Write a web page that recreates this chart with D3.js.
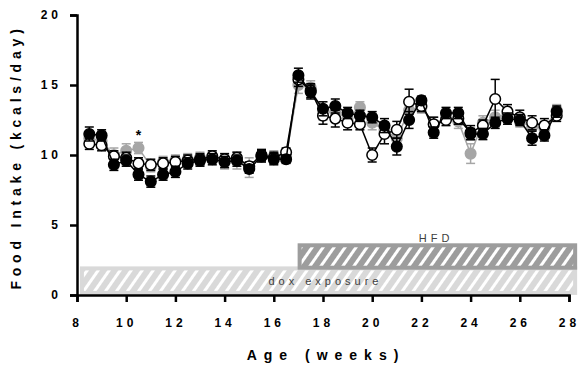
<!DOCTYPE html>
<html>
<head>
<meta charset="utf-8">
<script src="https://cdn.jsdelivr.net/npm/d3@7"></script>
<style>
  body { margin: 0; background: #fff; }
  text { font-family: "Liberation Sans", Arial, sans-serif; }
</style>
</head>
<body>
<svg id="chart" width="584" height="370"></svg>
<script>
// weeks of age (every half week)
const weeks = [8.5, 9, 9.5, 10, 10.5, 11, 11.5, 12, 12.5, 13, 13.5, 14, 14.5, 15, 15.5, 16, 16.5,
    17, 17.5, 18, 18.5, 19, 19.5, 20, 20.5, 21, 21.5, 22, 22.5, 23, 23.5, 24, 24.5, 25, 25.5, 26, 26.5, 27, 27.5];

const blackVals = [11.5, 11.4, 9.3, 9.6, 8.6, 8.1, 8.6, 8.8, 9.4, 9.6, 9.7, 9.5, 9.6, 9.0, 9.9, 9.7, 9.7,
    15.7, 14.5, 13.3, 13.5, 13.0, 12.8, 12.7, 12.1, 10.6, 12.5, 13.9, 11.6, 13.0, 13.0, 11.5, 11.5, 12.3, 12.6, 12.5, 11.2, 11.4, 13.1];
const blackErr = [0.5, 0.4, 0.4, 0.4, 0.4, 0.4, 0.4, 0.4, 0.4, 0.4, 0.4, 0.4, 0.4, 0.3, 0.4, 0.4, 0.3,
    0.5, 0.5, 0.5, 0.5, 0.4, 0.4, 0.4, 0.5, 0.6, 0.6, 0.3, 0.4, 0.4, 0.4, 0.4, 0.4, 0.4, 0.4, 0.4, 0.5, 0.4, 0.4];

const openVals = [10.8, 10.7, 9.9, 9.8, 9.4, 9.3, 9.4, 9.5, 9.6, 9.7, 9.9, 9.7, 9.8, 9.2, 10.0, 9.8, 10.2,
    15.4, 14.6, 12.8, 12.6, 12.3, 12.2, 10.0, 11.5, 11.8, 13.8, 13.5, 12.2, 12.5, 12.6, 11.6, 12.1, 14.0, 13.1, 12.7, 12.3, 12.1, 12.8];
const openErr = [0.4, 0.4, 0.4, 0.4, 0.4, 0.4, 0.4, 0.4, 0.4, 0.4, 0.4, 0.4, 0.4, 0.3, 0.4, 0.4, 0.3,
    0.5, 0.5, 0.6, 0.6, 0.5, 0.4, 0.5, 0.7, 0.6, 0.9, 0.4, 0.5, 0.4, 0.4, 0.5, 0.4, 1.4, 0.5, 0.5, 0.5, 0.5, 0.4];

const grayVals = [11.2, 11.0, 10.0, 10.3, 10.5, 9.2, 9.5, 9.6, 9.7, 9.8, 9.8, 9.5, 9.6, 9.1, 9.9, 9.9, 9.9,
    15.0, 14.8, 13.0, 13.1, 12.6, 13.4, 12.3, 11.8, 11.2, 13.2, 13.4, 12.2, 12.7, 12.4, 10.1, 12.3, 12.7, 12.9, 12.4, 12.0, 11.9, 13.2];
const grayErr = [0.4, 0.4, 0.5, 0.5, 0.4, 0.4, 0.4, 0.4, 0.4, 0.4, 0.4, 0.5, 0.6, 0.7, 0.4, 0.4, 0.3,
    0.6, 0.5, 0.5, 0.5, 0.4, 0.4, 0.5, 0.5, 0.5, 0.5, 0.4, 0.5, 0.4, 0.5, 0.7, 0.5, 0.5, 0.5, 0.4, 0.5, 0.5, 0.4];

const xTicks = [8, 10, 12, 14, 16, 18, 20, 22, 24, 26, 28];
const yTicks = [0, 5, 10, 15, 20];

// treatment periods [start, end] in weeks and their vertical band in kcals
const doxPeriod = [8.2, 28.25];
const doxBand = [0.15, 1.9];
const hfdPeriod = [17.05, 28.25];
const hfdBand = [1.95, 3.55];
const starWeek = 10.5;
const starVal = 11.6;

const svg = d3.select("#chart");
const x = d3.scaleLinear().domain([8, 28]).range([77, 569]);
const y = d3.scaleLinear().domain([0, 20]).range([295, 15]);

// stripe patterns
const defs = svg.append("defs");
function stripes(id, color) {
    const p = defs.append("pattern")
        .attr("id", id)
        .attr("patternUnits", "userSpaceOnUse")
        .attr("width", 9)
        .attr("height", 9)
        .attr("patternTransform", "rotate(35)");
    p.append("rect").attr("width", 9).attr("height", 9).attr("fill", color);
    p.append("rect").attr("x", 0).attr("width", 3).attr("height", 9).attr("fill", "#fff");
}
stripes("doxHatch", "#d9d9d9");
stripes("hfdHatch", "#9d9d9d");

function band(period, vals, color, hatch) {
    svg.append("rect")
        .attr("x", x(period[0]))
        .attr("y", y(vals[1]))
        .attr("width", x(period[1]) - x(period[0]))
        .attr("height", y(vals[0]) - y(vals[1]))
        .attr("fill", `url(#${hatch})`)
        .attr("stroke", color)
        .attr("stroke-width", 4);
}
band(doxPeriod, doxBand, "#d9d9d9", "doxHatch");
band(hfdPeriod, hfdBand, "#9d9d9d", "hfdHatch");

svg.append("text")
    .text("dox exposure")
    .attr("x", x(18.1))
    .attr("y", y((doxBand[0] + doxBand[1]) / 2) + 4)
    .attr("text-anchor", "middle")
    .attr("fill", "#404040")
    .attr("letter-spacing", 4)
    .style("font-size", "11px");
svg.append("text")
    .text("HFD")
    .attr("x", x(22.6))
    .attr("y", y(hfdBand[1]) - 3)
    .attr("text-anchor", "middle")
    .attr("fill", "#404040")
    .attr("letter-spacing", 4)
    .style("font-size", "11px");

// y axis
const yAxis = svg.append("g")
    .attr("transform", `translate(${x(8)},0)`)
    .call(d3.axisLeft(y).tickValues(yTicks).tickSize(7).tickPadding(8).tickFormat(d3.format("d")));
// x axis
const xAxis = svg.append("g")
    .attr("transform", `translate(0,${y(0)})`)
    .call(d3.axisBottom(x).tickValues(xTicks).tickSize(7).tickPadding(16).tickFormat(d3.format("d")));
[xAxis, yAxis].forEach(ax => {
    ax.select(".domain").attr("stroke", "#000").attr("stroke-width", 2.5);
    ax.selectAll(".tick line").attr("stroke", "#000").attr("stroke-width", 2.5);
    ax.selectAll(".tick text")
        .attr("fill", "#000")
        .attr("font-weight", "bold")
        .attr("letter-spacing", 4)
        .style("font-family", "'Liberation Sans', Arial, sans-serif")
        .style("font-size", "12px");
});

// axis titles
svg.append("text")
    .text("Age (weeks)")
    .attr("x", 326)
    .attr("y", 360)
    .attr("text-anchor", "middle")
    .attr("font-weight", "bold")
    .attr("letter-spacing", 7)
    .style("font-size", "14px");
svg.append("text")
    .text("Food Intake (kcals/day)")
    .attr("transform", `translate(21,${y(10) + 2}) rotate(-90)`)
    .attr("text-anchor", "middle")
    .attr("font-weight", "bold")
    .attr("letter-spacing", 4.8)
    .style("font-size", "14px");

// series, gray behind, then open, black on top
const series = [
    {vals: grayVals, err: grayErr, line: "#a6a6a6", fill: "#a6a6a6", stroke: "#a6a6a6"},
    {vals: openVals, err: openErr, line: "#000", fill: "#fff", stroke: "#000"},
    {vals: blackVals, err: blackErr, line: "#000", fill: "#000", stroke: "#000"}
];

const line = d3.line().x(d => x(d.w)).y(d => y(d.v));

series.forEach(s => {
    const pts = weeks.map((w, i) => ({w: w, v: s.vals[i], e: s.err[i]}));
    const g = svg.append("g");
    // error bars
    const eb = g.selectAll(".eb").data(pts).enter().append("g");
    eb.append("line")
        .attr("x1", d => x(d.w)).attr("x2", d => x(d.w))
        .attr("y1", d => y(d.v - d.e)).attr("y2", d => y(d.v + d.e))
        .attr("stroke", s.stroke).attr("stroke-width", 1.5);
    [-1, 1].forEach(sign => {
        eb.append("line")
            .attr("x1", d => x(d.w) - 4.5).attr("x2", d => x(d.w) + 4.5)
            .attr("y1", d => y(d.v + sign * d.e)).attr("y2", d => y(d.v + sign * d.e))
            .attr("stroke", s.stroke).attr("stroke-width", 1.5);
    });
    g.append("path")
        .datum(pts)
        .attr("d", line)
        .attr("fill", "none")
        .attr("stroke", s.line)
        .attr("stroke-width", 1.5);
    g.selectAll("circle").data(pts).enter().append("circle")
        .attr("cx", d => x(d.w))
        .attr("cy", d => y(d.v))
        .attr("r", 5.3)
        .attr("fill", s.fill)
        .attr("stroke", s.stroke)
        .attr("stroke-width", 1.5);
});

svg.append("text")
    .text("*")
    .attr("x", x(starWeek))
    .attr("y", y(starVal) + 7)
    .attr("text-anchor", "middle")
    .attr("font-weight", "bold")
    .style("font-size", "14px");
</script>
</body>
</html>
